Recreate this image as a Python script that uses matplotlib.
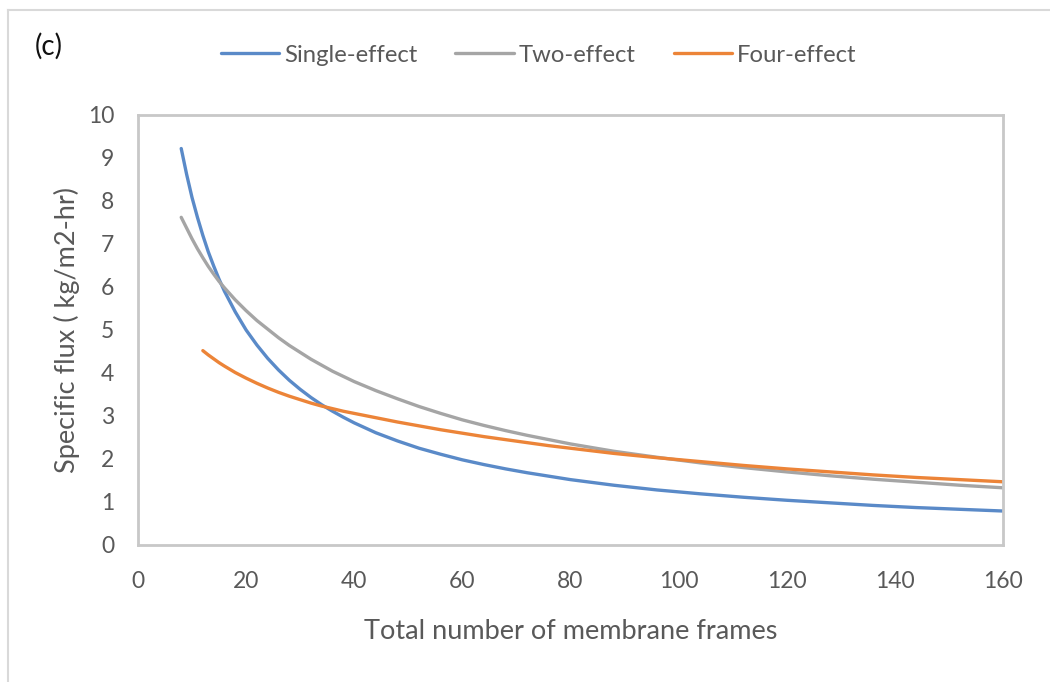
import matplotlib.pyplot as plt
from matplotlib.lines import Line2D

# total membrane frames and specific flux (kg/m2-hr) for each configuration
frames = [8, 9, 10, 11, 12, 13, 14, 15, 16, 18, 20, 22, 24, 26, 28, 30, 32, 34,
          36, 38, 40, 44, 48, 52, 56, 60, 64, 68, 72, 76, 80, 88, 96, 104, 112,
          120, 128, 136, 144, 152, 160]
single_effect = [9.22, 8.62, 8.08, 7.62, 7.20, 6.82, 6.49, 6.18, 5.90, 5.42, 5.00,
                 4.65, 4.34, 4.07, 3.83, 3.62, 3.43, 3.26, 3.11, 2.97, 2.84, 2.61,
                 2.42, 2.25, 2.11, 1.98, 1.87, 1.77, 1.68, 1.60, 1.52, 1.39, 1.28,
                 1.19, 1.11, 1.04, 0.98, 0.92, 0.87, 0.83, 0.79]
two_effect = [7.62, 7.37, 7.12, 6.89, 6.68, 6.48, 6.30, 6.13, 5.98, 5.70, 5.45,
              5.22, 5.02, 4.82, 4.64, 4.48, 4.32, 4.18, 4.04, 3.92, 3.80, 3.59,
              3.40, 3.22, 3.06, 2.91, 2.78, 2.66, 2.55, 2.45, 2.35, 2.18, 2.04,
              1.91, 1.80, 1.70, 1.61, 1.53, 1.46, 1.39, 1.33]

frames_four = [12, 13, 14, 15, 16, 18, 20, 22, 24, 26, 28, 30, 32, 34, 36, 38, 40,
               44, 48, 52, 56, 60, 64, 68, 72, 76, 80, 88, 96, 104, 112, 120, 128,
               136, 144, 152, 160]
four_effect = [4.52, 4.42, 4.33, 4.24, 4.16, 4.01, 3.88, 3.76, 3.65, 3.55, 3.46,
               3.38, 3.30, 3.23, 3.17, 3.11, 3.06, 2.96, 2.86, 2.77, 2.68, 2.60,
               2.52, 2.45, 2.38, 2.31, 2.25, 2.13, 2.03, 1.94, 1.85, 1.77, 1.70,
               1.63, 1.57, 1.52, 1.47]

x_ticks = [0, 20, 40, 60, 80, 100, 120, 140, 160]
y_ticks = list(range(0, 11))

plt.rcParams['font.family'] = ['Lato', 'DejaVu Sans']
text_grey = '#595959'
frame_grey = '#c8c8c8'

fig = plt.figure(figsize=(10.5, 6.82), dpi=100)
ax = fig.add_axes([0.1314, 0.2009, 0.8238, 0.6305])

ax.plot(frames, single_effect, color='#5a8ac8', lw=2.4, label='Single-effect',
        solid_capstyle='round', solid_joinstyle='round')
ax.plot(frames, two_effect, color='#a5a5a5', lw=2.4, label='Two-effect',
        solid_capstyle='round', solid_joinstyle='round')
ax.plot(frames_four, four_effect, color='#ec8438', lw=2.4, label='Four-effect',
        solid_capstyle='round', solid_joinstyle='round')

ax.set_xlim(0, 160)
ax.set_ylim(0, 10)
ax.set_xticks(x_ticks)
ax.set_yticks(y_ticks)
ax.tick_params(length=0, labelsize=16.5, labelcolor=text_grey)
ax.tick_params(axis='y', pad=17)
ax.tick_params(axis='x', pad=19)
for side in ax.spines.values():
    side.set_color(frame_grey)
    side.set_linewidth(2)

ax.set_xlabel('Total number of membrane frames', fontsize=19.5, color=text_grey,
              labelpad=19)
ax.set_ylabel('Specific flux ( kg/m2-hr)', fontsize=19.5, color=text_grey,
              labelpad=6)

fig.legend(loc='center', bbox_to_anchor=(0.513, 0.919), ncol=3, frameon=False,
           fontsize=17.2, handlelength=2.45, handletextpad=0.2, columnspacing=1.6,
           labelcolor=text_grey)

fig.text(0.033, 0.932, '(c)', fontsize=20, color='#111111', va='center')

# outer chart border (left and top edges only)
fig.add_artist(Line2D([0.008, 0.008], [0.0, 0.985], color='#d9d9d9', lw=1.5,
                      transform=fig.transFigure))
fig.add_artist(Line2D([0.008, 1.0], [0.985, 0.985], color='#d9d9d9', lw=1.5,
                      transform=fig.transFigure))

fig.savefig('out.png', dpi=100, facecolor='white')
